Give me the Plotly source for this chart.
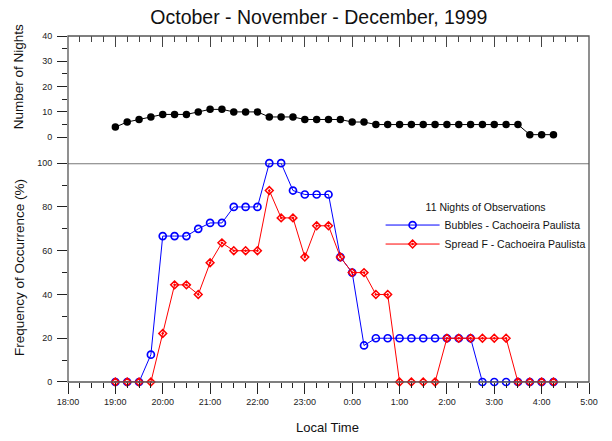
import plotly.graph_objects as go

# ---- data ----
times = ["19:00", "19:15", "19:30", "19:45", "20:00", "20:15", "20:30", "20:45",
         "21:00", "21:15", "21:30", "21:45", "22:00", "22:15", "22:30", "22:45",
         "23:00", "23:15", "23:30", "23:45", "0:00", "0:15", "0:30", "0:45",
         "1:00", "1:15", "1:30", "1:45", "2:00", "2:15", "2:30", "2:45",
         "3:00", "3:15", "3:30", "3:45", "4:00", "4:15"]
nights = [4, 6, 7, 8, 9, 9, 9, 10, 11, 11, 10, 10, 10, 8, 8, 8, 7, 7, 7, 7,
          6, 6, 5, 5, 5, 5, 5, 5, 5, 5, 5, 5, 5, 5, 5, 1, 1, 1]
bubbles = [0, 0, 0, 12.5, 66.7, 66.7, 66.7, 70, 72.7, 72.7, 80, 80, 80, 100, 100,
           87.5, 85.7, 85.7, 85.7, 57.1, 50, 16.7, 20, 20, 20, 20, 20, 20, 20, 20,
           20, 0, 0, 0, 0, 0, 0, 0]
spreadf = [0, 0, 0, 0, 22.2, 44.4, 44.4, 40, 54.5, 63.6, 60, 60, 60, 87.5, 75, 75,
           57.1, 71.4, 71.4, 57.1, 50, 50, 40, 40, 0, 0, 0, 0, 20, 20, 20, 20, 20,
           20, 0, 0, 0, 0]
tick_hours = list(range(18, 30))
tick_labels = ["18:00", "19:00", "20:00", "21:00", "22:00", "23:00", "0:00",
               "1:00", "2:00", "3:00", "4:00", "5:00"]


def to_hours(t):
    h, m = (int(v) for v in t.split(":"))
    if h < 12:
        h += 24
    return h + m / 60.0


x = [to_hours(t) for t in times]

FONT = "Liberation Sans, Arial, sans-serif"

fig = go.Figure()
fig.add_trace(go.Scatter(
    x=x, y=nights, xaxis="x2", yaxis="y", mode="lines+markers",
    line=dict(color="black", width=1),
    marker=dict(symbol="circle", size=7.5, color="black"),
    showlegend=False, cliponaxis=False, hoverinfo="skip"))
fig.add_trace(go.Scatter(
    x=x, y=bubbles, xaxis="x", yaxis="y2", mode="lines+markers",
    name="Bubbles - Cachoeira Paulista",
    line=dict(color="#0000ff", width=1),
    marker=dict(symbol="circle-open", size=7, color="#0000ff", line=dict(width=1.7)),
    cliponaxis=False))
fig.add_trace(go.Scatter(
    x=x, y=spreadf, xaxis="x", yaxis="y2", mode="lines+markers",
    name="Spread F - Cachoeira Paulista",
    line=dict(color="#ff0000", width=1),
    marker=dict(symbol="diamond-open-dot", size=6, color="#ff0000", line=dict(width=1.5)),
    cliponaxis=False))

top_dom = [0.7075, 1.0]
bot_dom = [0.0, 0.6324]

fig.update_layout(
    width=612, height=441,
    margin=dict(l=68, r=23, t=36, b=59),
    paper_bgcolor="white", plot_bgcolor="white",
    font=dict(family=FONT, color="#111", size=9),
    title=dict(text="October - November - December, 1999", x=0.521, xanchor="center",
               y=1 - 17 / 441, yanchor="middle", yref="container",
               font=dict(size=19.5, color="#111", family=FONT)),
    xaxis=dict(domain=[0, 1], anchor="y2", range=[18, 29],
               tickvals=tick_hours, ticktext=tick_labels,
               ticks="outside", ticklen=11, tickwidth=1, tickcolor="#222",
               minor=dict(dtick=0.25, ticks="outside", ticklen=5, tickwidth=1, tickcolor="#222"),
               showgrid=False, zeroline=False, showline=False,
               tickfont=dict(size=9, color="#222"),
               title=dict(text="")),
    xaxis2=dict(matches="x", overlaying="x", anchor="y", side="top",
                tickvals=tick_hours, ticks="inside", ticklen=11, tickwidth=1, tickcolor="#444",
                minor=dict(dtick=0.25, ticks="inside", ticklen=6, tickwidth=1, tickcolor="#444"),
                showticklabels=False, showgrid=False, zeroline=False, showline=False),
    yaxis=dict(domain=top_dom, anchor="x", range=[0, 40], tickvals=[0, 10, 20, 30, 40],
               ticks="outside", ticklen=10, tickwidth=1, tickcolor="#222",
               minor=dict(dtick=5, ticks="outside", ticklen=5, tickwidth=1, tickcolor="#222"),
               showgrid=False, zeroline=False, showline=False,
               tickfont=dict(size=9, color="#222"), ticklabelstandoff=3),
    yaxis2=dict(domain=bot_dom, anchor="x", range=[0, 100], tickvals=[0, 20, 40, 60, 80, 100],
                ticks="outside", ticklen=10, tickwidth=1, tickcolor="#222",
                minor=dict(dtick=10, ticks="outside", ticklen=5, tickwidth=1, tickcolor="#222"),
                showgrid=False, zeroline=False, showline=False,
                tickfont=dict(size=9, color="#222"), ticklabelstandoff=3),
    legend=dict(x=0.6, xanchor="left", y=0.535, yanchor="top",
                bgcolor="rgba(0,0,0,0)", borderwidth=0, itemwidth=54,
                font=dict(size=10.5, color="#111", family=FONT),
                title=dict(text="11 Nights of Observations", side="top center",
                           font=dict(size=10.5, color="#111", family=FONT))),
    shapes=[
        dict(type="rect", xref="paper", yref="paper", x0=0, x1=1, y0=0, y1=1,
             line=dict(color="#555", width=1.3), layer="above"),
        dict(type="line", xref="paper", yref="y2", x0=0, x1=1, y0=100, y1=100,
             line=dict(color="#777", width=2), layer="below"),
    ],
    annotations=[
        dict(text="Number of Nights", xref="paper", yref="paper",
             x=(19.3 - 68) / 521, y=(382.3 - 77) / 346.3, textangle=-90,
             showarrow=False, xanchor="center", yanchor="middle",
             font=dict(size=13.5, color="#111", family=FONT)),
        dict(text="Frequency of Occurrence (%)", xref="paper", yref="paper",
             x=(19.3 - 68) / 521, y=(382.3 - 268) / 346.3, textangle=-90,
             showarrow=False, xanchor="center", yanchor="middle",
             font=dict(size=13.5, color="#111", family=FONT)),
        dict(text="Local Time", xref="paper", yref="paper",
             x=(327 - 68) / 521, y=(382.3 - 428) / 346.3,
             showarrow=False, xanchor="center", yanchor="middle",
             font=dict(size=13, color="#111", family=FONT)),
    ],
)

fig.write_html("out.html")
